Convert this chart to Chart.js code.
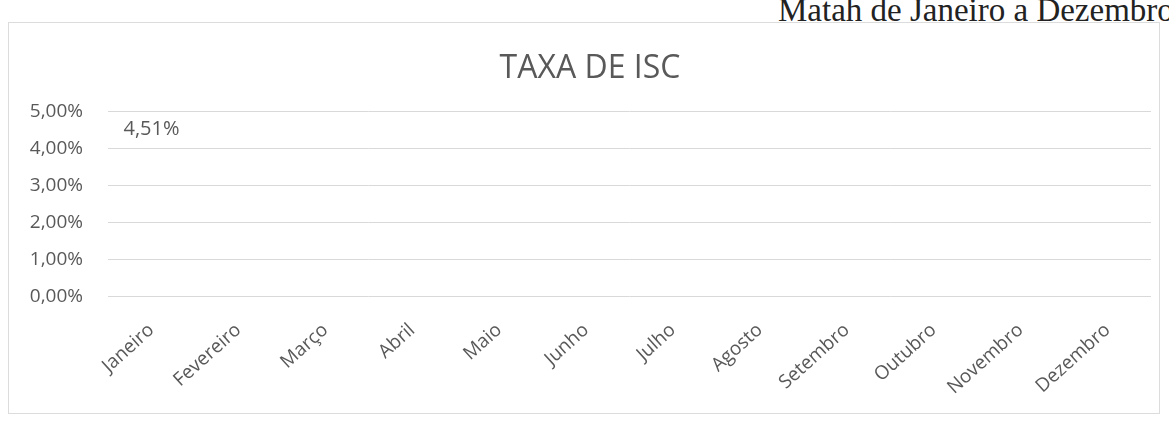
<!DOCTYPE html>
<html>
<head>
<meta charset="utf-8">
<script src="https://cdn.jsdelivr.net/npm/chart.js@4.4.0/dist/chart.umd.min.js"></script>
<style>
  body { margin: 0; background: #fff; width: 1169px; height: 421px; overflow: hidden; position: relative; }
  #caption {
    position: absolute; left: 778px; top: -6px;
    font-family: "Liberation Serif", serif; font-size: 33px; line-height: 33px; color: #222;
    white-space: nowrap;
  }
  #frame {
    position: absolute; left: 8px; top: 22px; width: 1152px; height: 392px;
    border: 1px solid #dcdcdc; box-sizing: border-box;
  }
</style>
</head>
<body>
<div id="caption">Matah de Janeiro a Dezembro</div>
<div id="frame"><canvas id="iscChart"></canvas></div>
<script>
// chart data
const months = ['Janeiro', 'Fevereiro', 'Março', 'Abril', 'Maio', 'Junho',
                'Julho', 'Agosto', 'Setembro', 'Outubro', 'Novembro', 'Dezembro'];
const taxaIsc = [4.51, null, null, null, null, null, null, null, null, null, null, null];
const yTicks = [0, 1, 2, 3, 4, 5];

const fmtPct = v => v.toFixed(2).replace('.', ',') + '%';

// draws the value label on top of each point
const valueLabels = {
    id: 'valueLabels',
    afterDatasetsDraw(chart) {
        const ctx = chart.ctx;
        const meta = chart.getDatasetMeta(0);
        ctx.save();
        ctx.font = '20px "Open Sans"';
        ctx.fillStyle = '#595959';
        ctx.textAlign = 'center';
        ctx.textBaseline = 'middle';
        meta.data.forEach((pt, i) => {
            const v = taxaIsc[i];
            if (v === null) return;
            ctx.fillText(fmtPct(v), pt.x, pt.y);
        });
        ctx.restore();
    }
};

const ctx = document.getElementById('iscChart').getContext('2d');
new Chart(ctx, {
    type: 'line',
    data: {
        labels: months,
        datasets: [{
            label: 'Taxa de ISC',
            data: taxaIsc,
            borderColor: 'rgba(255, 255, 255, 0)',
            backgroundColor: 'rgba(255, 255, 255, 0)',
            pointRadius: 0,
            spanGaps: false
        }]
    },
    options: {
        responsive: true,
        maintainAspectRatio: false,
        animation: false,
        layout: { padding: { top: 19, left: 20, right: 8, bottom: 0 } },
        plugins: {
            legend: { display: false },
            tooltip: { enabled: false },
            title: {
                display: true,
                text: 'TAXA DE ISC',
                color: '#595959',
                font: { family: '"Open Sans"', size: 32, weight: 'normal' },
                padding: { top: 8, bottom: 23 }
            }
        },
        scales: {
            x: {
                offset: true,
                grid: { display: false },
                border: { display: false },
                afterFit: scale => { scale.paddingLeft = 0; scale.paddingRight = 0; },
                ticks: {
                    color: '#595959',
                    font: { family: '"Open Sans"', size: 19 },
                    minRotation: 42,
                    maxRotation: 42,
                    autoSkip: false,
                    padding: 14
                }
            },
            y: {
                min: yTicks[0],
                max: yTicks[yTicks.length - 1],
                afterBuildTicks: axis => { axis.ticks = yTicks.map(v => ({ value: v })); },
                afterFit: scale => { scale.width = 79; },
                grid: { color: '#d9d9d9', drawTicks: false },
                border: { display: false },
                ticks: {
                    color: '#595959',
                    font: { family: '"Open Sans"', size: 19 },
                    padding: 25,
                    callback: v => fmtPct(v)
                }
            }
        }
    },
    plugins: [valueLabels]
});
</script>
</body>
</html>
